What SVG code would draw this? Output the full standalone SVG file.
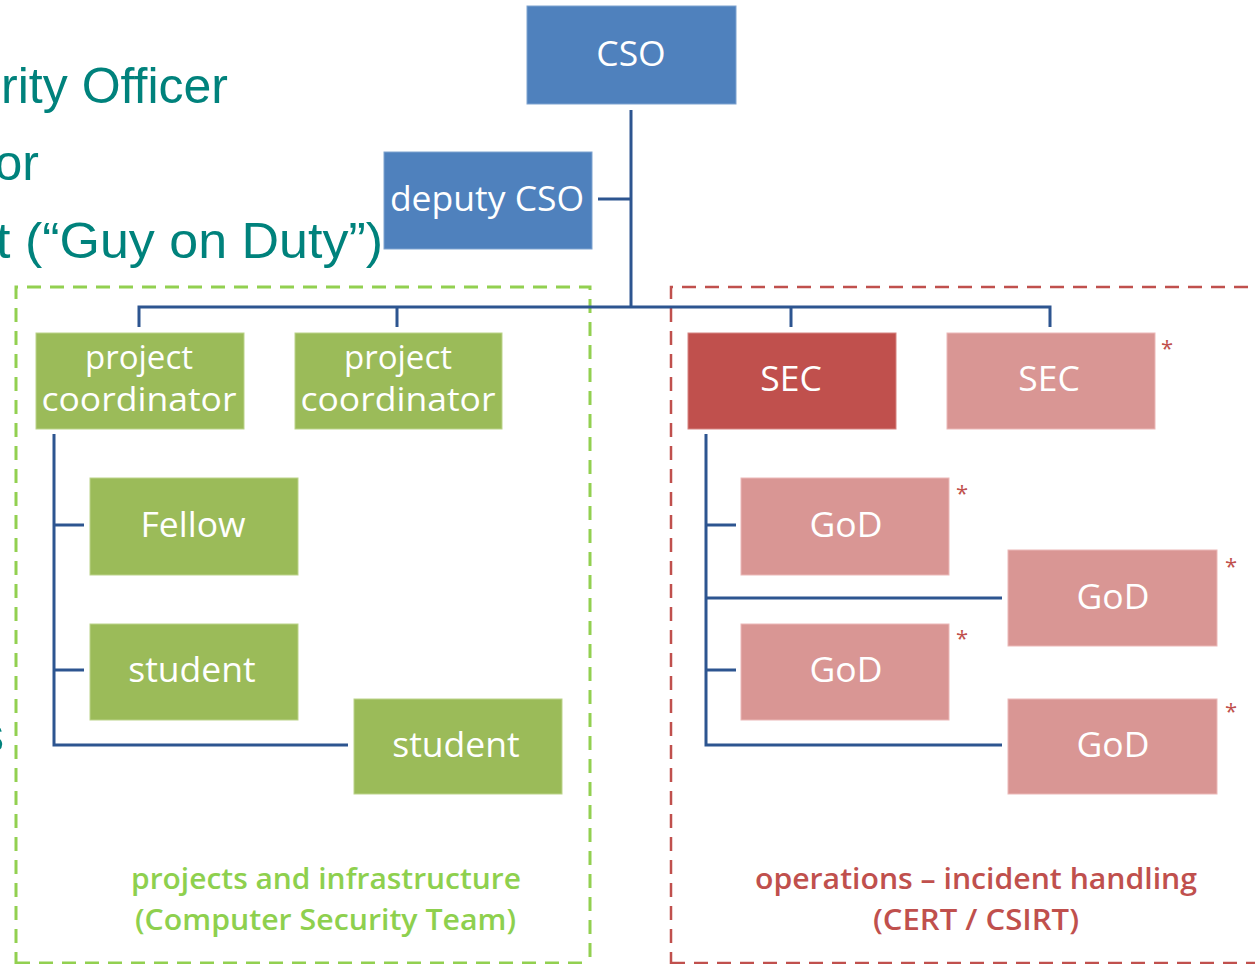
<svg xmlns="http://www.w3.org/2000/svg" width="1255" height="964" viewBox="0 0 1255 964">
  <style>
    .bg { fill: #ffffff; }
    .intro { font-family: "Liberation Sans", Arial, sans-serif; font-size: 50px; fill: #00827C; }
    .box text { font-family: "Open Sans", "Liberation Sans", sans-serif; font-size: 35.5px; fill: #ffffff; text-anchor: middle; }
    .box text.two { font-size: 33px; }
    .blue rect { fill: #4F81BD; stroke: #7FA3D0; stroke-width: 1; }
    .green rect { fill: #9BBB59; stroke: #BBD38A; stroke-width: 1; }
    .red rect { fill: #C0504D; stroke: #D68481; stroke-width: 1; }
    .pink rect { fill: #D99694; stroke: #EBB8B7; stroke-width: 1; }
    .star { font-family: "Open Sans", "Liberation Sans", sans-serif; font-size: 22px; fill: #C0504D; }
    .conn line, .conn polyline { stroke: #2D5590; stroke-width: 3; fill: none; }
    .zone-green { fill: none; stroke: #92D050; stroke-width: 3; stroke-dasharray: 14 9; }
    .zone-red { fill: none; stroke: #C0504D; stroke-width: 2.5; stroke-dasharray: 14 9; }
    .cap { font-family: "Open Sans", "Liberation Sans", sans-serif; font-size: 28px; font-weight: 600; }
  </style>

  <rect class="bg" x="0" y="0" width="1255" height="964"/>

  <!-- bullet text running in from the left edge -->
  <g id="intro-text">
    <text class="intro" x="228" y="103" text-anchor="end">rity Officer</text>
    <text class="intro" x="39" y="180" text-anchor="end">or</text>
    <text class="intro" x="-4" y="258" textLength="387" lengthAdjust="spacingAndGlyphs">t (“Guy on Duty”)</text>
    <text class="intro" x="4" y="752" text-anchor="end">s</text>
  </g>

  <!-- team zones -->
  <g id="zones">
    <path class="zone-green" d="M16 966 V287 H590 V966"/>
    <path class="zone-red" d="M671 966 V287 H1258"/>
    <line class="zone-red" x1="671" y1="963" x2="1258" y2="963"/>
    <line class="zone-green" x1="16" y1="963" x2="590" y2="963"/>
  </g>

  <!-- connectors -->
  <g id="connectors" class="conn">
    <line x1="631" y1="110" x2="631" y2="308"/>
    <line x1="598" y1="199" x2="631" y2="199"/>
    <polyline points="139,327 139,307 1050,307 1050,327"/>
    <line x1="397" y1="307" x2="397" y2="327"/>
    <line x1="791" y1="307" x2="791" y2="327"/>
    <polyline points="54,434 54,745 348,745"/>
    <line x1="54" y1="525" x2="84" y2="525"/>
    <line x1="54" y1="670" x2="84" y2="670"/>
    <polyline points="706,434 706,745 1002,745"/>
    <line x1="706" y1="525" x2="736" y2="525"/>
    <line x1="706" y1="598" x2="1002" y2="598"/>
    <line x1="706" y1="670" x2="736" y2="670"/>
  </g>

  <!-- nodes -->
  <g id="cso" class="box blue">
    <rect x="527" y="6" width="209" height="98"/>
    <text x="631" y="66">CSO</text>
  </g>
  <g id="deputy-cso" class="box blue">
    <rect x="384" y="152" width="208" height="97"/>
    <text x="487" y="211">deputy CSO</text>
  </g>

  <g id="project-coordinator-1" class="box green">
    <rect x="36" y="333" width="208" height="96"/>
    <text class="two" x="139" y="369">project</text>
    <text class="two" x="139" y="411" textLength="195" lengthAdjust="spacingAndGlyphs">coordinator</text>
  </g>
  <g id="project-coordinator-2" class="box green">
    <rect x="295" y="333" width="207" height="96"/>
    <text class="two" x="398" y="369">project</text>
    <text class="two" x="398" y="411" textLength="195" lengthAdjust="spacingAndGlyphs">coordinator</text>
  </g>
  <g id="fellow" class="box green">
    <rect x="90" y="478" width="208" height="97"/>
    <text x="193" y="537">Fellow</text>
  </g>
  <g id="student-1" class="box green">
    <rect x="90" y="624" width="208" height="96"/>
    <text x="192" y="682">student</text>
  </g>
  <g id="student-2" class="box green">
    <rect x="354" y="699" width="208" height="95"/>
    <text x="456" y="757">student</text>
  </g>

  <g id="sec-1" class="box red">
    <rect x="688" y="333" width="208" height="96"/>
    <text x="791" y="391">SEC</text>
  </g>
  <g id="sec-2" class="box pink">
    <rect x="947" y="333" width="208" height="96"/>
    <text x="1049" y="391">SEC</text>
  </g>
  <g id="god-1" class="box pink">
    <rect x="741" y="478" width="208" height="97"/>
    <text x="846" y="537">GoD</text>
  </g>
  <g id="god-2" class="box pink">
    <rect x="1008" y="550" width="209" height="96"/>
    <text x="1113" y="609">GoD</text>
  </g>
  <g id="god-3" class="box pink">
    <rect x="741" y="624" width="208" height="96"/>
    <text x="846" y="682">GoD</text>
  </g>
  <g id="god-4" class="box pink">
    <rect x="1008" y="699" width="209" height="95"/>
    <text x="1113" y="757">GoD</text>
  </g>

  <!-- footnote markers -->
  <g id="markers">
    <text class="star" x="1161" y="356">*</text>
    <text class="star" x="956" y="501">*</text>
    <text class="star" x="1225" y="574">*</text>
    <text class="star" x="956" y="646">*</text>
    <text class="star" x="1225" y="719">*</text>
  </g>

  <!-- zone captions -->
  <g id="captions">
    <text class="cap" x="131" y="889" textLength="390" lengthAdjust="spacingAndGlyphs" fill="#8ED04E">projects and infrastructure</text>
    <text class="cap" x="135" y="930" textLength="381" lengthAdjust="spacingAndGlyphs" fill="#8ED04E">(Computer Security Team)</text>
    <text class="cap" x="755" y="889" textLength="442" lengthAdjust="spacingAndGlyphs" fill="#C0504D">operations – incident handling</text>
    <text class="cap" x="873" y="930" textLength="206" lengthAdjust="spacingAndGlyphs" fill="#C0504D">(CERT / CSIRT)</text>
  </g>
</svg>
